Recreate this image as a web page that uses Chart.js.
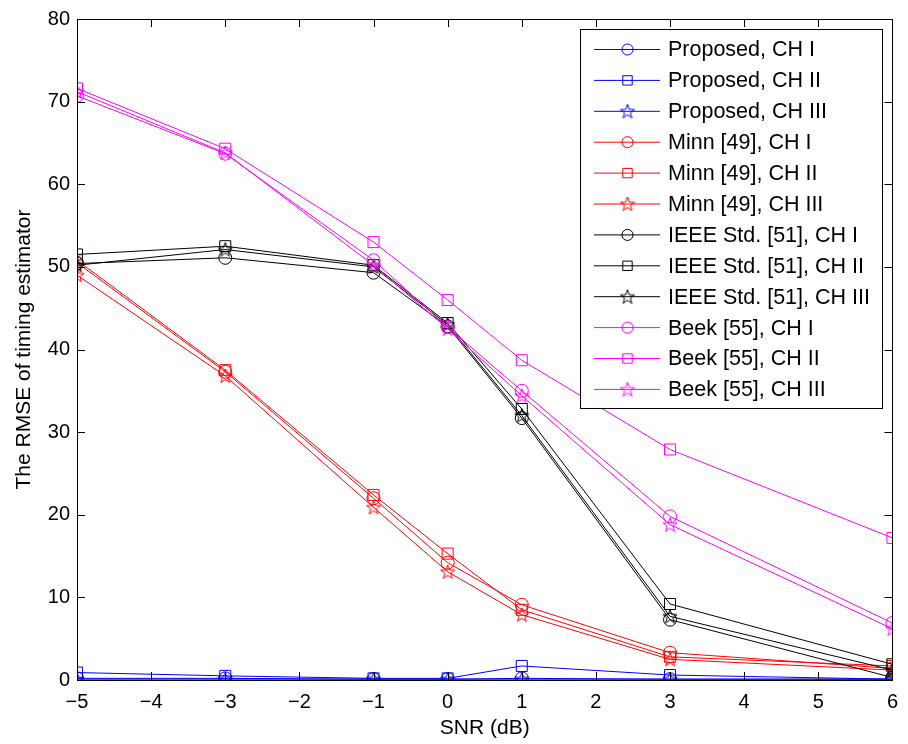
<!DOCTYPE html>
<html lang="en">
  <head>
    <meta charset="UTF-8" />
    <title>RMSE of timing estimator vs SNR</title>
    <style>
      body {
        margin: 0;
        background-color: white;
      }
      .chart-container {
        position: relative;
        width: 908px;
        height: 744px;
      }
    </style>
    <script src="https://cdn.jsdelivr.net/npm/chart.js@4.4.1/dist/chart.umd.min.js"></script>
  </head>
  <body>
    <div class="chart-container">
      <canvas id="rmseChart"></canvas>
    </div>

    <script>
      // SNR points (dB)
      const snr = [-5, -3, -1, 0, 1, 3, 6];

      // RMSE values
      const proposedCh1 = [0.2, 0.2, 0.1, 0.1, 0.2, 0.1, 0.1];
      const proposedCh2 = [0.9, 0.5, 0.2, 0.2, 1.7, 0.6, 0.1];
      const proposedCh3 = [0.1, 0.1, 0.1, 0.1, 0.1, 0.1, 0.1];
      const minnCh1 = [50.5, 37.3, 22.0, 14.2, 9.1, 3.3, 1.4];
      const minnCh2 = [50.8, 37.5, 22.4, 15.3, 8.5, 2.8, 1.7];
      const minnCh3 = [49.0, 36.8, 20.9, 13.1, 7.9, 2.5, 1.2];
      const ieeeCh1 = [50.4, 51.1, 49.3, 42.8, 31.7, 7.3, 0.3];
      const ieeeCh2 = [51.5, 52.5, 50.2, 43.2, 32.8, 9.2, 1.9];
      const ieeeCh3 = [50.2, 52.1, 50.0, 43.0, 32.0, 7.7, 1.2];
      const beekCh1 = [70.7, 63.7, 50.8, 42.7, 35.0, 19.8, 6.9];
      const beekCh2 = [71.6, 64.3, 53.0, 46.0, 38.7, 27.9, 17.2];
      const beekCh3 = [71.2, 63.8, 50.2, 42.5, 34.4, 18.8, 6.2];

      const labels = [
        "Proposed, CH I", "Proposed, CH II", "Proposed, CH III",
        "Minn [49], CH I", "Minn [49], CH II", "Minn [49], CH III",
        "IEEE Std. [51], CH I", "IEEE Std. [51], CH II", "IEEE Std. [51], CH III",
        "Beek [55], CH I", "Beek [55], CH II", "Beek [55], CH III",
      ];
      const values = [
        proposedCh1, proposedCh2, proposedCh3,
        minnCh1, minnCh2, minnCh3,
        ieeeCh1, ieeeCh2, ieeeCh3,
        beekCh1, beekCh2, beekCh3,
      ];

      const xTicks = [-5, -4, -3, -2, -1, 0, 1, 2, 3, 4, 5, 6];
      const yTicks = [0, 10, 20, 30, 40, 50, 60, 70, 80];

      const colores = ["#0000ff", "#ff0000", "#000000", "#ff00ff"];
      const FONT = "'Liberation Sans', Arial, sans-serif";

      // pentagram marker like MATLAB 'p'
      function makeStar(color) {
        const c = document.createElement("canvas");
        c.width = 18;
        c.height = 18;
        const g = c.getContext("2d");
        g.strokeStyle = color;
        g.lineWidth = 1;
        g.beginPath();
        for (let k = 0; k < 10; k++) {
          const r = k % 2 === 0 ? 7.5 : 3;
          const a = -Math.PI / 2 + (k * Math.PI) / 5;
          const px = 9 + r * Math.cos(a);
          const py = 9.5 + r * Math.sin(a);
          if (k === 0) g.moveTo(px, py);
          else g.lineTo(px, py);
        }
        g.closePath();
        g.stroke();
        return c;
      }

      const estilos = [
        { pointStyle: "circle", radius: 6.5 },
        { pointStyle: "rect", radius: 7.8 },
        null,
      ];

      const datasets = values.map((serie, i) => {
        const color = colores[Math.floor(i / 3)];
        const tipo = i % 3;
        const ps = tipo === 2 ? makeStar(color) : estilos[tipo].pointStyle;
        const r = tipo === 2 ? 9 : estilos[tipo].radius;
        return {
          label: labels[i],
          data: serie.map((v, j) => ({ x: snr[j], y: v })),
          borderColor: color,
          backgroundColor: "rgba(0,0,0,0)",
          borderWidth: 1,
          pointStyle: ps,
          pointRadius: r,
          pointBorderWidth: 1,
          pointBorderColor: color,
          pointBackgroundColor: "rgba(0,0,0,0)",
          order: -i,
          tension: 0,
        };
      });

      // MATLAB-style box, inward ticks and legend inside the axes
      const matlabPlugin = {
        id: "matlabStyle",
        afterDraw(chart) {
          const ctx = chart.ctx;
          const a = chart.chartArea;
          const xs = chart.scales.x;
          const ys = chart.scales.y;
          ctx.save();
          ctx.strokeStyle = "#000";
          ctx.lineWidth = 1;
          ctx.beginPath();
          xTicks.forEach((t) => {
            const px = Math.round(xs.getPixelForValue(t)) + 0.5;
            ctx.moveTo(px, a.bottom);
            ctx.lineTo(px, a.bottom - 8);
            ctx.moveTo(px, a.top);
            ctx.lineTo(px, a.top + 8);
          });
          yTicks.forEach((t) => {
            const py = Math.round(ys.getPixelForValue(t)) + 0.5;
            ctx.moveTo(a.left, py);
            ctx.lineTo(a.left + 8, py);
            ctx.moveTo(a.right, py);
            ctx.lineTo(a.right - 8, py);
          });
          ctx.stroke();
          ctx.strokeRect(
            Math.round(a.left) + 0.5,
            Math.round(a.top) + 0.5,
            Math.round(a.right - a.left),
            Math.round(a.bottom - a.top)
          );

          // legend
          const lx = 580.5, ly = 29.5, lw = 302, lh = 379;
          ctx.fillStyle = "#fff";
          ctx.fillRect(lx, ly, lw, lh);
          ctx.strokeRect(lx, ly, lw, lh);
          ctx.font = "21.5px " + FONT;
          ctx.textBaseline = "middle";
          ctx.textAlign = "left";
          chart.data.datasets.forEach((ds, i) => {
            const y = 49.5 + i * 30.9;
            ctx.strokeStyle = ds.borderColor;
            ctx.beginPath();
            ctx.moveTo(594, y);
            ctx.lineTo(660, y);
            ctx.stroke();
            ctx.fillStyle = "rgba(0,0,0,0)";
            Chart.helpers.drawPoint(
              ctx,
              { pointStyle: ds.pointStyle, radius: ds.pointRadius * 0.85, rotation: 0, borderWidth: 1 },
              627.5,
              y
            );
            ctx.fillStyle = "#000";
            ctx.fillText(ds.label, 668, y + 1);
          });
          ctx.restore();
        },
      };

      const ctx = document.getElementById("rmseChart").getContext("2d");
      new Chart(ctx, {
        type: "line",
        data: { datasets: datasets },
        options: {
          responsive: true,
          maintainAspectRatio: false,
          animation: false,
          events: [],
          layout: { padding: { top: 13, right: 13, left: 0, bottom: 0 } },
          plugins: {
            legend: { display: false },
            tooltip: { enabled: false },
          },
          scales: {
            x: {
              type: "linear",
              min: -5,
              max: 6,
              afterBuildTicks: (s) => {
                s.ticks = xTicks.map((v) => ({ value: v }));
              },
              afterFit: (s) => {
                s.height = 64;
              },
              grid: { display: false, drawTicks: false },
              border: { display: false },
              ticks: {
                color: "#000",
                padding: 10,
                font: { size: 20, family: FONT },
                callback: (v) => String(v).replace("-", "\u2212"),
              },
              title: {
                display: true,
                text: "SNR (dB)",
                color: "#000",
                padding: { top: 0, bottom: 3 },
                font: { size: 21, family: FONT },
              },
            },
            y: {
              type: "linear",
              min: 0,
              max: 80,
              afterBuildTicks: (s) => {
                s.ticks = yTicks.map((v) => ({ value: v }));
              },
              afterFit: (s) => {
                s.width = 77;
              },
              grid: { display: false, drawTicks: false },
              border: { display: false },
              ticks: {
                color: "#000",
                padding: 7,
                font: { size: 20, family: FONT },
              },
              title: {
                display: true,
                text: "The RMSE of timing estimator",
                color: "#000",
                padding: { top: 12, bottom: 0 },
                font: { size: 21, family: FONT },
              },
            },
          },
        },
        plugins: [matlabPlugin],
      });
    </script>
  </body>
</html>
